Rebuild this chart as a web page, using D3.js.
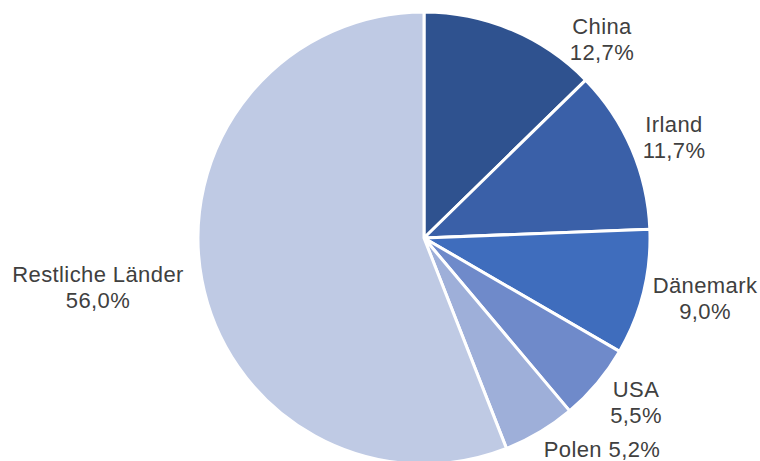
<!DOCTYPE html>
<html>
<head>
<meta charset="utf-8">
<script src="https://cdn.jsdelivr.net/npm/d3@7"></script>
<style>
  body { margin: 0; background: #fff; }
  text { font-family: "Liberation Sans", Arial, sans-serif; fill: #404040; }
</style>
</head>
<body>
<svg id="chart"></svg>
<script>
// Anteile nach Ländern (in %)
var countries = ["China", "Irland", "Dänemark", "USA", "Polen", "Restliche Länder"];
var shares = [12.7, 11.7, 9.0, 5.5, 5.2, 56.0];
var sliceColors = ["#2F528F", "#3A60A8", "#3F6DBD", "#6F8ACA", "#9EAFD9", "#BFCAE4"];

function pie(w, h, svg) {
    var cx = 424, cy = 238, r = 226;

    svg.attr("width", w).attr("height", h);
    var g = svg.append("g").attr("transform", "translate(" + cx + "," + cy + ")");

    var data = countries.map(function(c, i) {
        return { name: c, value: shares[i], color: sliceColors[i] };
    });

    var layout = d3.pie().sort(null).value(function(d) { return d.value; });
    var arc = d3.arc().innerRadius(0).outerRadius(r);

    g.selectAll(".slice")
        .data(layout(data))
        .enter()
        .append("path")
        .attr("class", "slice")
        .attr("d", arc)
        .style("fill", function(d) { return d.data.color; })
        .style("stroke", "#fff")
        .style("stroke-width", 3)
        .style("stroke-linejoin", "round");

    // label anchors relative to the pie centre (Excel "best fit" placement)
    var labelPos = [[178, -204], [250, -106], [281, 55], [212, 159], [178, 219], [-326, 44]];
    var fmt = function(v) { return v.toFixed(1).replace(".", ",") + "%"; };

    var labels = g.selectAll(".label")
        .data(data)
        .enter()
        .append("text")
        .attr("class", "label")
        .attr("text-anchor", "middle")
        .style("font-size", "22px")
        .style("letter-spacing", "0.4px")
        .attr("transform", function(d, i) {
            return "translate(" + labelPos[i][0] + "," + labelPos[i][1] + ")";
        });

    labels.each(function(d) {
        var t = d3.select(this);
        if (d.name === "Polen") {
            t.append("tspan").attr("x", 0).text(d.name + " " + fmt(d.value));
        } else {
            t.append("tspan").attr("x", 0).text(d.name);
            t.append("tspan").attr("x", 0).attr("dy", 26).text(fmt(d.value));
        }
    });
}

pie(760, 461, d3.select("#chart"));
</script>
</body>
</html>
